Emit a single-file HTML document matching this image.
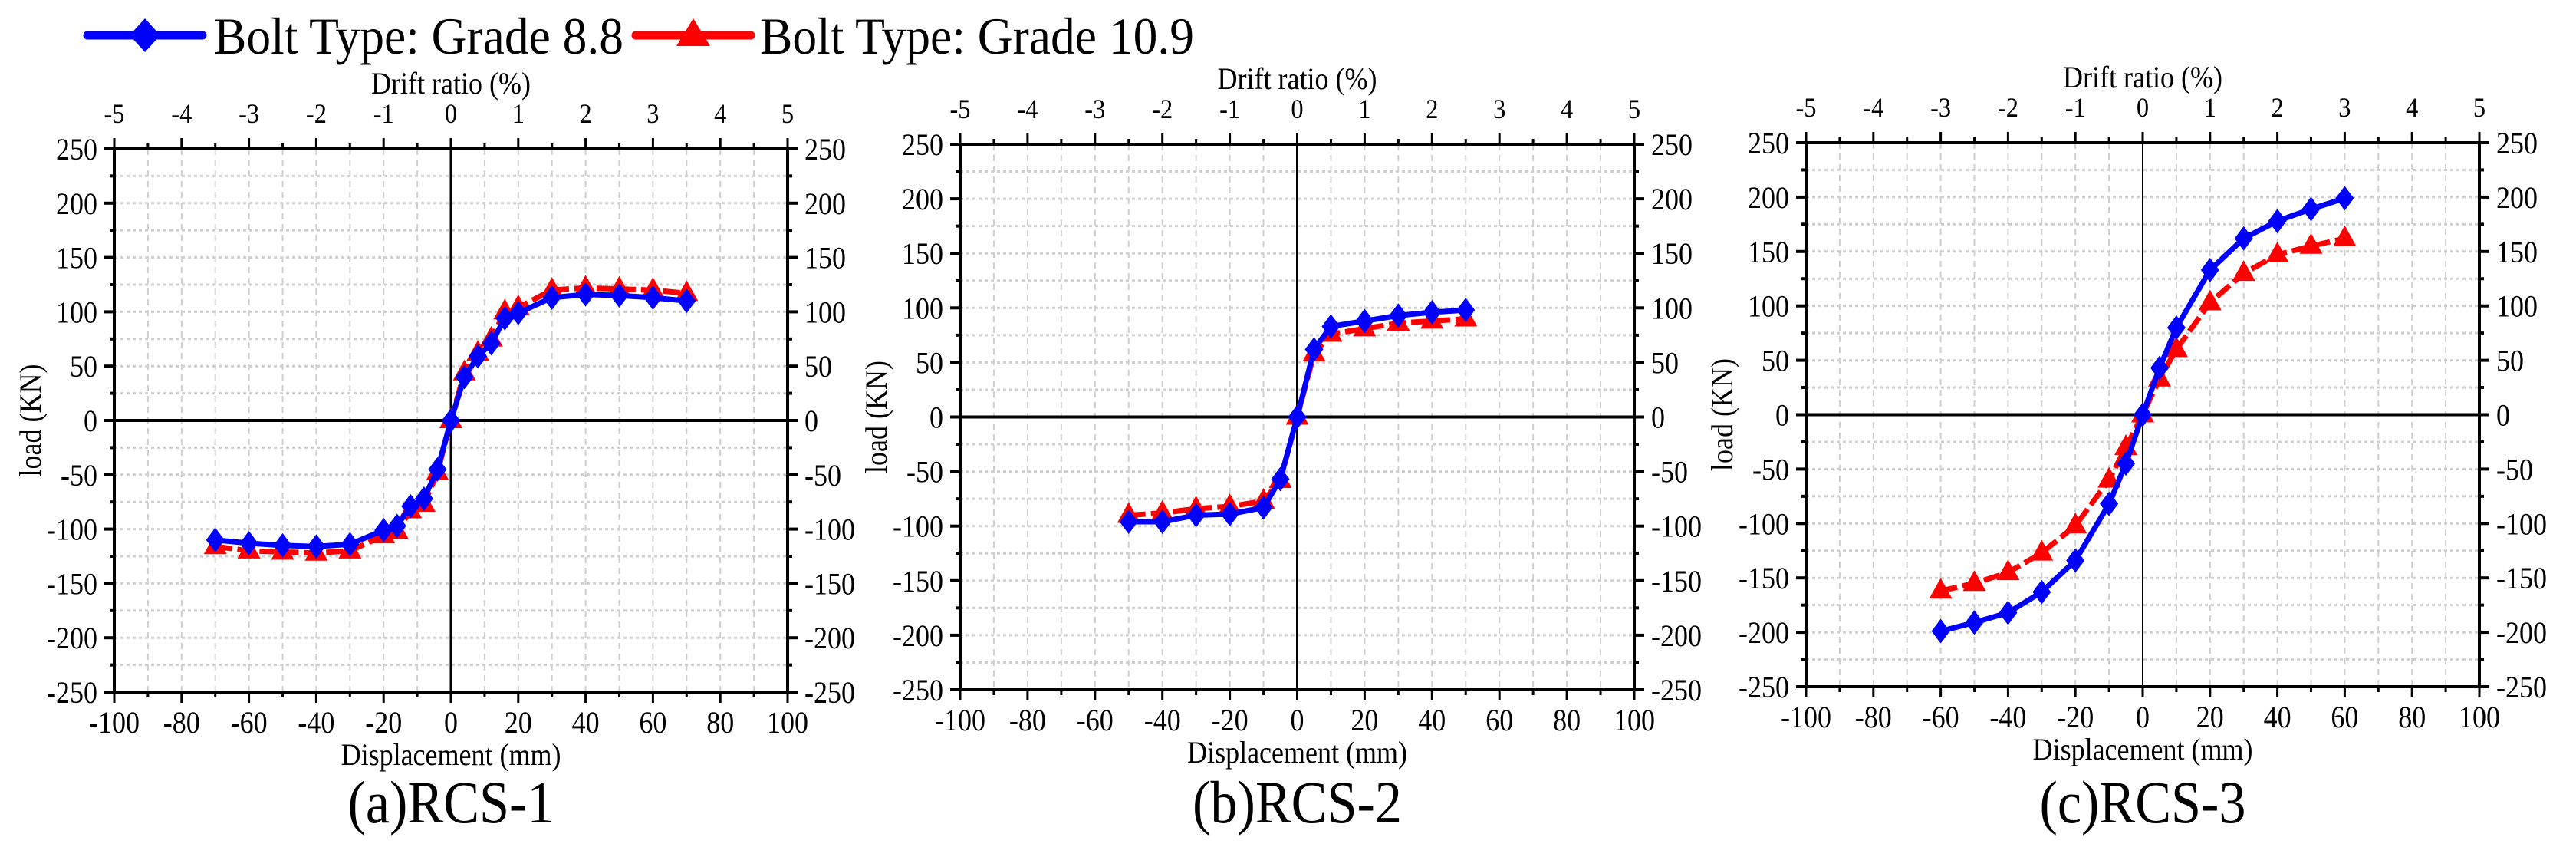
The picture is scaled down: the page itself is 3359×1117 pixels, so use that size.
<!DOCTYPE html>
<html><head><meta charset="utf-8"><style>
html,body{margin:0;padding:0;background:#fff;}
svg{display:block;font-family:"Liberation Serif","Times New Roman",serif;}
</style></head><body>
<svg id="fig" width="3359" height="1117" viewBox="0 0 3359 1117" xmlns="http://www.w3.org/2000/svg">
<g id="legend">
  <g>
    <line x1="114" y1="46" x2="264" y2="46" stroke="#0000ff" stroke-width="11" stroke-linecap="round"/>
    <polygon points="189,24 209,46 189,68 169,46" fill="#0000ff"/>
    <text x="279" y="70" font-size="68" textLength="534" lengthAdjust="spacingAndGlyphs">Bolt Type: Grade 8.8</text>
  </g>
  <g>
    <line x1="829" y1="46" x2="979" y2="46" stroke="#ff0000" stroke-width="11" stroke-linecap="round"/>
    <polygon points="904,24 926,60 882,60" fill="#ff0000"/>
    <text x="991" y="70" font-size="68" textLength="566" lengthAdjust="spacingAndGlyphs">Bolt Type: Grade 10.9</text>
  </g>
</g>
</svg>
<script>
// RCS-1 data
const rcs1BlueX = [-70,-60,-50,-40,-30,-20,-16,-12,-8,-4,0,4,8,12,16,20,30,40,50,60,70];
const rcs1BlueY = [-110,-113,-115,-116,-114,-101,-97,-79,-72,-45,0,40,59,71,94,99,113,116,115,113,110];
const rcs1RedX = [-70,-60,-50,-40,-30,-20,-16,-12,-8,-4,0,4,8,12,16,20,30,40,50,60,70];
const rcs1RedY = [-116,-120,-121,-122,-120,-106,-102,-83,-77,-48,0,44,62,75,100,104,120,122,121,120,117];
// RCS-2 data
const rcs2BlueX = [-50,-40,-30,-20,-10,-5,0,5,10,20,30,40,50];
const rcs2BlueY = [-96,-96,-90,-89,-83,-57,0,62,83,88,93,96,98];
const rcs2RedX = [-50,-40,-30,-20,-10,-5,0,5,10,20,30,40,50];
const rcs2RedY = [-90,-88,-84,-82,-77,-58,0,58,76,81,86,88,90];
// RCS-3 data
const rcs3BlueX = [-60,-50,-40,-30,-20,-10,-5,0,5,10,20,30,40,50,60];
const rcs3BlueY = [-199,-191,-182,-163,-134,-82,-45,0,43,80,133,162,178,189,199];
const rcs3RedX = [-60,-50,-40,-30,-20,-10,-5,0,5,10,20,30,40,50,60];
const rcs3RedY = [-162,-155,-145,-127,-102,-60,-30,0,33,60,103,130,147,155,162];
// axis ticks
const xTicks = [-100,-80,-60,-40,-20,0,20,40,60,80,100];
const driftTicks = [-5,-4,-3,-2,-1,0,1,2,3,4,5];
const yTicks = [-250,-200,-150,-100,-50,0,50,100,150,200,250];
const captions = ["(a)RCS-1","(b)RCS-2","(c)RCS-3"];

const NS = "http://www.w3.org/2000/svg";
const svg = document.getElementById('fig');
function mk(tag, attrs, parent){ const e=document.createElementNS(NS,tag); for(const k in attrs) e.setAttribute(k,attrs[k]); parent.appendChild(e); return e; }
function txt(parent,x,y,s,size,anchor){
  const t=mk('text',{transform:`translate(${x},${y}) scale(0.9,1)`,'font-size':size,'text-anchor':anchor||'middle',fill:'#000'},parent);
  t.textContent=s; return t;
}

const panels = [
  {L:149,R:1027,T:194,B:902,bx:rcs1BlueX,by:rcs1BlueY,rx:rcs1RedX,ry:rcs1RedY,vz:3},
  {L:1252,R:2131,T:188,B:899,bx:rcs2BlueX,by:rcs2BlueY,rx:rcs2RedX,ry:rcs2RedY,vz:3},
  {L:2355,R:3233,T:186,B:895,bx:rcs3BlueX,by:rcs3BlueY,rx:rcs3RedX,ry:rcs3RedY,vz:2}
];

panels.forEach((p,i)=>{
  const g=mk('g',{},svg);
  
  
  const sx=v=>p.L+(v+100)/200*(p.R-p.L);
  const sy=v=>p.B-(v+250)/500*(p.B-p.T);
  const cx=(p.L+p.R)/2;
  const grid=mk('g',{},g);
  
  
  for(let v=-90;v<100;v+=10){ mk('line',{x1:sx(v),x2:sx(v),y1:p.T,y2:p.B,stroke:'#cfcfcf','stroke-width':2,'stroke-dasharray':'8 6'},grid); }
  for(let v=-225;v<250;v+=25){ mk('line',{x1:p.L,x2:p.R,y1:sy(v),y2:sy(v),stroke:'#cfcfcf','stroke-width':3,'stroke-dasharray':'4 4'},grid); }
  mk('line',{x1:sx(0),x2:sx(0),y1:p.T,y2:p.B,stroke:'#000','stroke-width':p.vz},g);
  mk('line',{x1:p.L,x2:p.R,y1:sy(0),y2:sy(0),stroke:'#000','stroke-width':4},g);
  const fr=mk('rect',{x:p.L,y:p.T,width:p.R-p.L,height:p.B-p.T,fill:'none',stroke:'#000','stroke-width':4},g);
  
  
  for(let v=-100;v<=100;v+=10){ const maj=v%20===0; const x=sx(v);
    mk('line',{x1:x,x2:x,y1:p.B,y2:p.B+(maj?14:7),stroke:'#000','stroke-width':3},g);
    mk('line',{x1:x,x2:x,y1:p.T,y2:p.T-(maj?14:7),stroke:'#000','stroke-width':3},g); }
  for(let v=-250;v<=250;v+=25){ const maj=v%50===0; const y=sy(v);
    mk('line',{x1:p.L,x2:p.L-(maj?13:6),y1:y,y2:y,stroke:'#000','stroke-width':4},g);
    mk('line',{x1:p.R,x2:p.R+(maj?13:6),y1:y,y2:y,stroke:'#000','stroke-width':4},g); }
  xTicks.forEach(v=>{ const t=txt(g,sx(v),p.B+53,String(v),40);
      });
  driftTicks.forEach(v=>{ const t=txt(g,sx(v*20),p.T-34,String(v),36);
      });
  yTicks.forEach(v=>{
    const t1=txt(g,p.L-22,sy(v)+14,String(v),40,'end');
     
    const t2=txt(g,p.R+22,sy(v)+14,String(v),40,'start');
      });
  const tt=txt(g,cx,p.T-72,'Drift ratio (%)',40);
   
  const bt=txt(g,cx,p.B+95,'Displacement (mm)',40);
   
  const yt=mk('text',{transform:`translate(${p.L-96},${sy(0)}) rotate(-90) scale(0.9,1)`,'font-size':40,'text-anchor':'middle'},g);
  yt.textContent='load (KN)';
   
  const cp=txt(g,cx,1072,captions[i],78);
   
  const red=mk('g',{},g);
  
  
  mk('polyline',{points:p.rx.map((x,k)=>sx(x)+','+sy(p.ry[k])).join(' '),fill:'none',stroke:'#ff0000','stroke-width':7,'stroke-dasharray':'22 7','stroke-linejoin':'round'},red);
  p.rx.forEach((x,k)=>{ const X=sx(x),Y=sy(p.ry[k]);
    const m=mk('polygon',{points:`${X},${Y-17} ${X+15},${Y+10} ${X-15},${Y+10}`,fill:'#ff0000'},red);
      });
  const blue=mk('g',{},g);
  
  
  mk('polyline',{points:p.bx.map((x,k)=>sx(x)+','+sy(p.by[k])).join(' '),fill:'none',stroke:'#0000ff','stroke-width':7,'stroke-linejoin':'round'},blue);
  p.bx.forEach((x,k)=>{ const X=sx(x),Y=sy(p.by[k]);
    const m=mk('polygon',{points:`${X},${Y-16} ${X+12},${Y} ${X},${Y+16} ${X-12},${Y}`,fill:'#0000ff'},blue);
      });
});
</script>
</body></html>
